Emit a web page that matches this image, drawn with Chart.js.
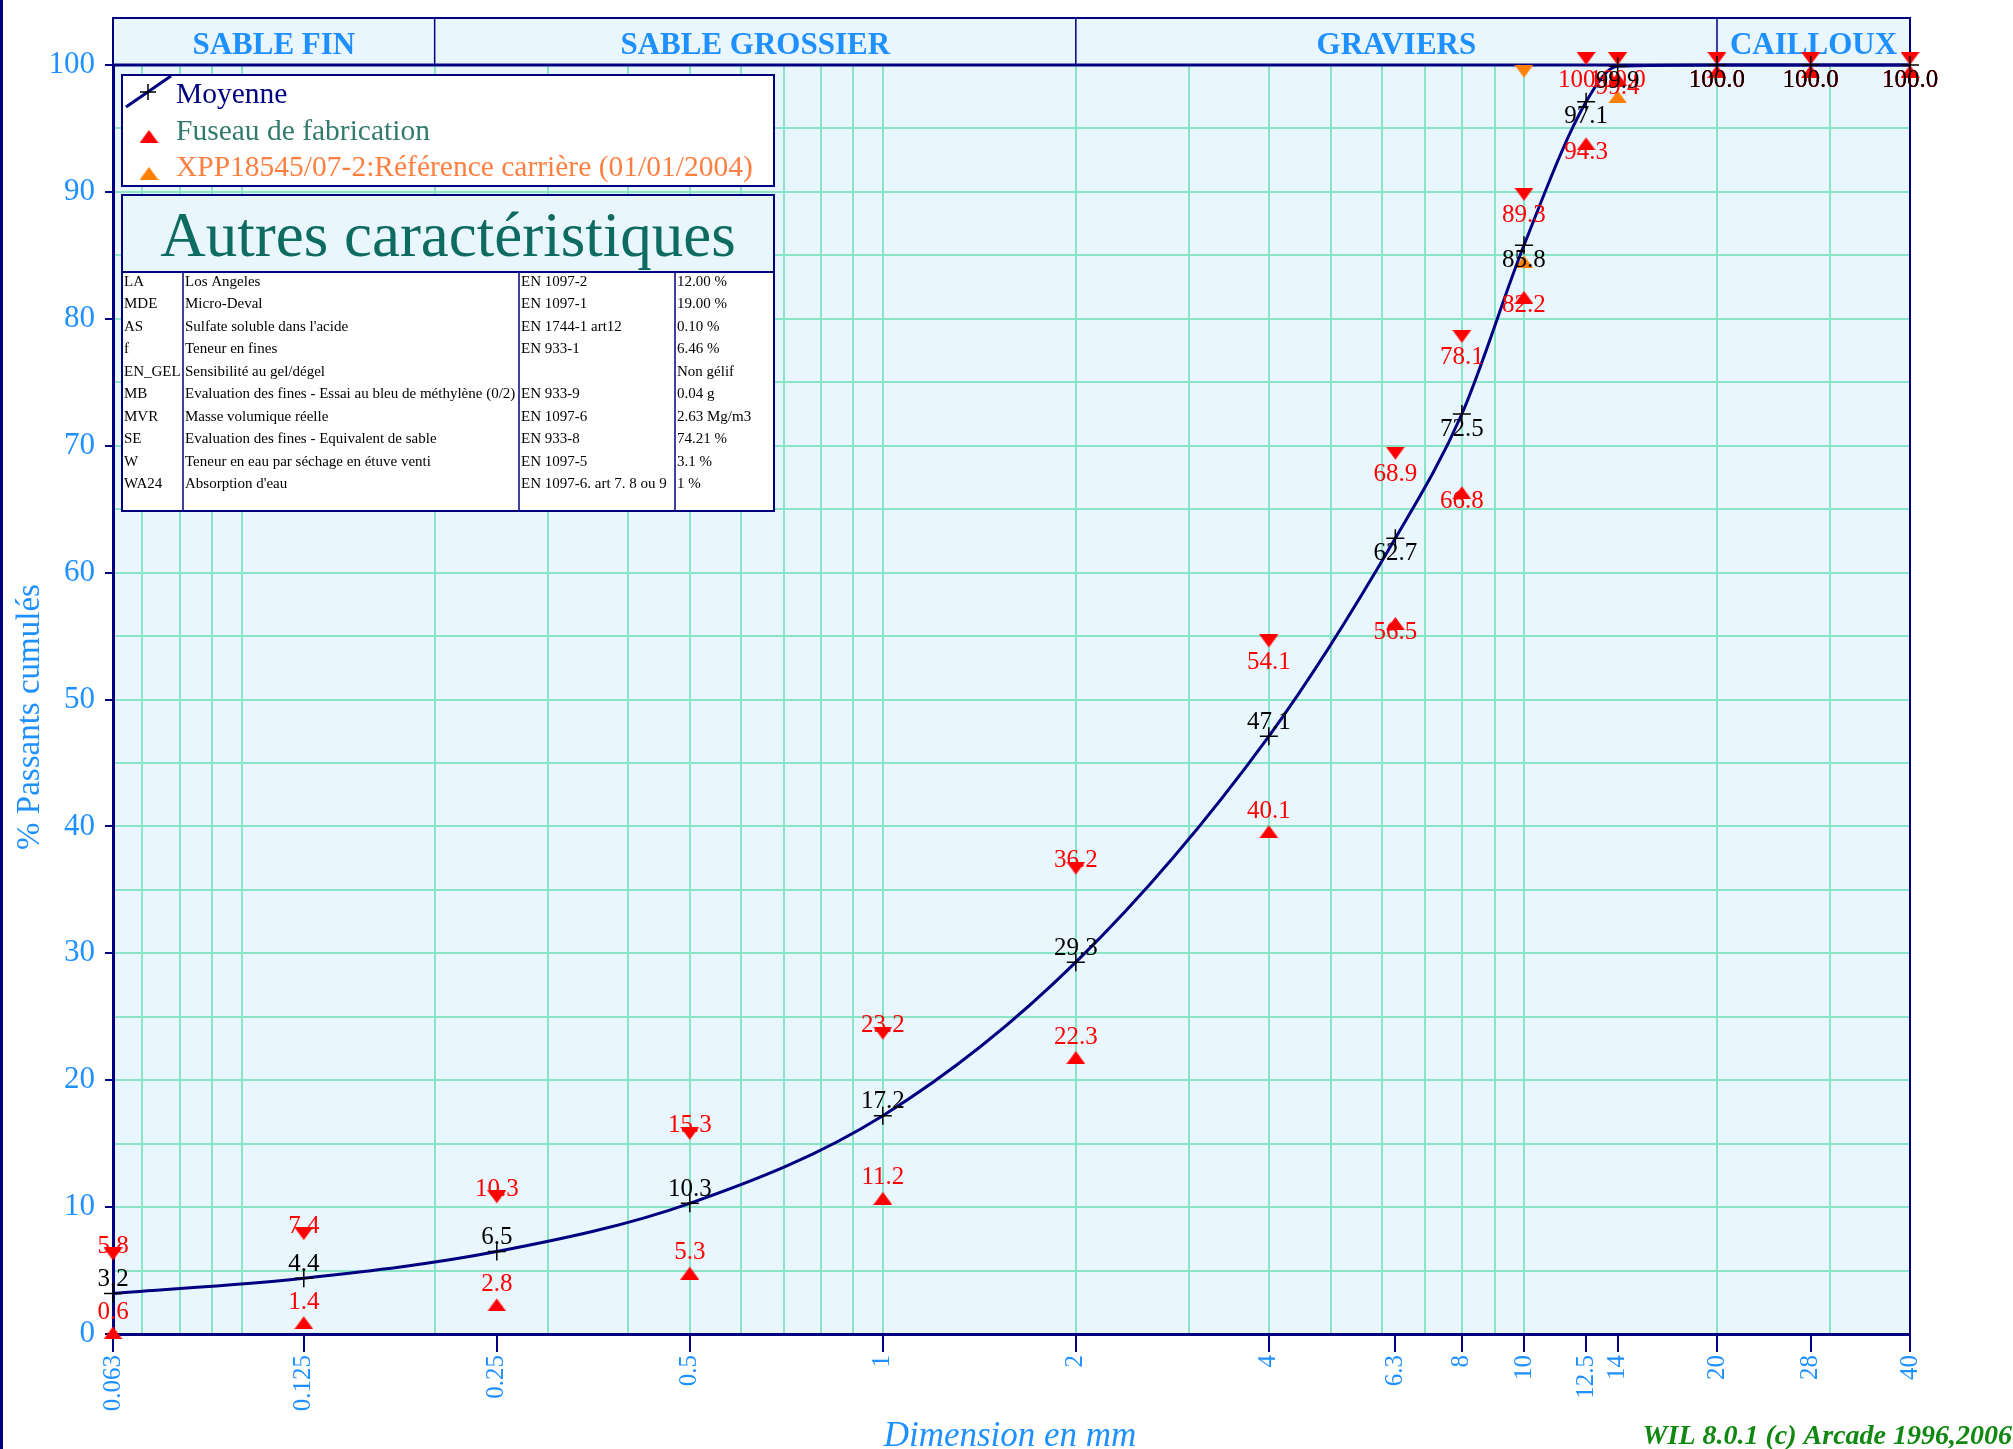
<!DOCTYPE html>
<html>
<head>
<meta charset="utf-8">
<title>Courbe granulométrique</title>
<script src="https://cdn.jsdelivr.net/npm/chart.js@4.4.1/dist/chart.umd.min.js"></script>
<style>
  html, body { margin: 0; padding: 0; background: #ffffff; }
  #wrap { width: 2013px; height: 1449px; position: relative; }
</style>
</head>
<body>
<div id="wrap"><canvas id="granulo" width="2013" height="1449"></canvas></div>
<script>
// sieve sizes (mm) and their printed labels
const sieves = [0.063, 0.125, 0.25, 0.5, 1, 2, 4, 6.3, 8, 10, 12.5, 14, 20, 28, 40];
const sieveLabels = ["0.063", "0.125", "0.25", "0.5", "1", "2", "4", "6.3", "8", "10", "12.5", "14", "20", "28", "40"];

// % passants cumulés
const moyenne = [3.2, 4.4, 6.5, 10.3, 17.2, 29.3, 47.1, 62.7, 72.5, 85.8, 97.1, 99.9, 100, 100, 100];
const fuseauMin = [0.6, 1.4, 2.8, 5.3, 11.2, 22.3, 40.1, 56.5, 66.8, 82.2, 94.3, 99.4, 100, 100, 100];
const fuseauMax = [5.8, 7.4, 10.3, 15.3, 23.2, 36.2, 54.1, 68.9, 78.1, 89.3, 100, 100, 100, 100, 100];

// XPP 18545 reference (carrière)
const refSieves = [10, 14];
const refMin = [85, 98];
const refMax = [99, 100];

// log grid lines
const gridSizes = [0.07, 0.08, 0.09, 0.1, 0.2, 0.3, 0.4, 0.5, 0.6, 0.7, 0.8, 0.9, 1, 2, 3, 4, 5, 6, 7, 8, 9, 10, 20, 30, 40];

// zones in the top band
const zoneNames = ["SABLE FIN", "SABLE GROSSIER", "GRAVIERS", "CAILLOUX"];
const zoneLimits = [0.063, 0.2, 2, 20, 40];

const legendNames = ["Moyenne", "Fuseau de fabrication", "XPP18545/07-2:Référence carrière (01/01/2004)"];

// "Autres caractéristiques" table
const caractCodes = ["LA", "MDE", "AS", "f", "EN_GEL", "MB", "MVR", "SE", "W", "WA24"];
const caractNames = ["Los Angeles", "Micro-Deval", "Sulfate soluble dans l'acide", "Teneur en fines",
  "Sensibilité au gel/dégel", "Evaluation des fines - Essai au bleu de méthylène (0/2)",
  "Masse volumique réelle", "Evaluation des fines - Equivalent de sable",
  "Teneur en eau par séchage en étuve venti", "Absorption d'eau"];
const caractNormes = ["EN 1097-2", "EN 1097-1", "EN 1744-1 art12", "EN 933-1", "", "EN 933-9",
  "EN 1097-6", "EN 933-8", "EN 1097-5", "EN 1097-6. art 7. 8 ou 9"];
const caractValeurs = ["12.00 %", "19.00 %", "0.10 %", "6.46 %", "Non gélif", "0.04 g",
  "2.63 Mg/m3", "74.21 %", "3.1 %", "1 %"];

const navy = "#000080";
const blue = "#1e90ff";
const gridColor = "#88e5c6";
const plotBg = "#eaf6fe";
const red = "#ff0000";
const orange = "#ff8000";
const serif = '"Liberation Serif", "DejaVu Serif", serif';

const allTicks = Array.from(new Set(sieves.concat(gridSizes))).sort((a, b) => a - b);

// triangle marker whose tip sits on the value
function triangle(color, up) {
  const w = 19, h = 13;
  const c = document.createElement("canvas");
  c.width = w; c.height = h * 2;
  const g = c.getContext("2d");
  g.fillStyle = color;
  g.beginPath();
  if (up) { g.moveTo(w / 2, h); g.lineTo(w, 2 * h); g.lineTo(0, 2 * h); }
  else { g.moveTo(w / 2, h); g.lineTo(w, 0); g.lineTo(0, 0); }
  g.closePath();
  g.fill();
  return c;
}

const pts = (xs, ys) => xs.map((x, i) => ({ x: x, y: ys[i] }));

// background of the plot + top band with zones
const decor = {
  id: "decor",
  beforeDraw(chart) {
    const { ctx, chartArea: a } = chart;
    ctx.save();
    ctx.fillStyle = plotBg;
    ctx.fillRect(a.left, a.top, a.right - a.left, a.bottom - a.top);
    ctx.restore();
  },
  beforeDatasetsDraw(chart) {
    const { ctx, chartArea: a } = chart;
    const xs = chart.scales.x;
    ctx.save();
    // zone band
    const top = 18;
    ctx.fillStyle = plotBg;
    ctx.fillRect(a.left, top, a.right - a.left, a.top - top);
    ctx.strokeStyle = navy;
    ctx.lineWidth = 2;
    ctx.strokeRect(a.left, top, a.right - a.left, a.top - top);
    ctx.lineWidth = 1.5;
    ctx.font = "bold 31px " + serif;
    ctx.fillStyle = blue;
    ctx.textAlign = "center";
    ctx.textBaseline = "middle";
    for (let i = 0; i < zoneNames.length; i++) {
      const x0 = xs.getPixelForValue(zoneLimits[i]);
      const x1 = xs.getPixelForValue(zoneLimits[i + 1]);
      if (i > 0) {
        ctx.beginPath(); ctx.moveTo(x0, top); ctx.lineTo(x0, a.top); ctx.stroke();
      }
      ctx.fillText(zoneNames[i], (x0 + x1) / 2, 46);
    }
    // plot frame (top + right)
    ctx.lineWidth = 3;
    ctx.beginPath(); ctx.moveTo(a.left, a.top); ctx.lineTo(a.right, a.top); ctx.stroke();
    ctx.lineWidth = 2;
    ctx.beginPath(); ctx.moveTo(a.right, a.top); ctx.lineTo(a.right, a.bottom); ctx.stroke();

    // legend box
    ctx.fillStyle = "#ffffff";
    ctx.fillRect(122, 75, 652, 111);
    ctx.strokeStyle = navy;
    ctx.lineWidth = 2;
    ctx.strokeRect(122, 75, 652, 111);
    ctx.lineWidth = 3;
    ctx.beginPath(); ctx.moveTo(126, 107); ctx.lineTo(171, 76); ctx.stroke();
    ctx.strokeStyle = "#000000";
    ctx.lineWidth = 1.5;
    ctx.beginPath();
    ctx.moveTo(140, 92); ctx.lineTo(156, 92);
    ctx.moveTo(148, 84); ctx.lineTo(148, 100);
    ctx.stroke();
    ctx.drawImage(triangle(red, true), 139.5, 117);
    ctx.drawImage(triangle(orange, true), 139.5, 154);
    ctx.font = "29.5px " + serif;
    ctx.textAlign = "left";
    const legendColors = [navy, "#337a6e", "#ff7f40"];
    const legendY = [95, 132, 168];
    legendNames.forEach((n, i) => {
      ctx.fillStyle = legendColors[i];
      ctx.fillText(n, 176, legendY[i]);
    });

    // "Autres caractéristiques" box
    const bx = 122, by = 195, bw = 652, bh = 316;
    ctx.fillStyle = "#ffffff";
    ctx.fillRect(bx, by, bw, bh);
    ctx.fillStyle = plotBg;
    ctx.fillRect(bx, by, bw, 77);
    ctx.strokeStyle = navy;
    ctx.lineWidth = 2;
    ctx.strokeRect(bx, by, bw, bh);
    ctx.beginPath(); ctx.moveTo(bx, 272); ctx.lineTo(bx + bw, 272); ctx.stroke();
    ctx.lineWidth = 1.5;
    [183, 519, 675].forEach(cx => {
      ctx.beginPath(); ctx.moveTo(cx, 272); ctx.lineTo(cx, by + bh); ctx.stroke();
    });
    ctx.fillStyle = "#0e6b62";
    ctx.font = "63px " + serif;
    ctx.textAlign = "center";
    ctx.textBaseline = "alphabetic";
    ctx.fillText("Autres caractéristiques", bx + bw / 2, 256);
    ctx.fillStyle = "#000000";
    ctx.font = "15px " + serif;
    ctx.textAlign = "left";
    ctx.textBaseline = "middle";
    caractCodes.forEach((c, i) => {
      const y = 282 + i * 22.45;
      ctx.fillText(c, 124, y);
      ctx.fillText(caractNames[i], 185, y);
      ctx.fillText(caractNormes[i], 521, y);
      ctx.fillText(caractValeurs[i], 677, y);
    });
    ctx.restore();
  },
  afterDraw(chart) {
    const { ctx } = chart;
    ctx.save();
    ctx.fillStyle = navy;
    ctx.fillRect(0, 0, 3, chart.height);
    // axis titles
    ctx.fillStyle = blue;
    ctx.font = "33px " + serif;
    ctx.textAlign = "center";
    ctx.textBaseline = "middle";
    ctx.translate(30, 717);
    ctx.rotate(-Math.PI / 2);
    ctx.fillText("% Passants cumulés", 0, 0);
    ctx.restore();
    ctx.save();
    ctx.fillStyle = blue;
    ctx.font = "italic 35px " + serif;
    ctx.textAlign = "center";
    ctx.textBaseline = "alphabetic";
    ctx.fillText("Dimension en mm", 1010, 1446);
    ctx.fillStyle = "#118811";
    ctx.font = "italic bold 28px " + serif;
    ctx.textAlign = "right";
    ctx.fillText("WIL 8.0.1 (c) Arcade 1996,2006", 2012, 1444);
    ctx.restore();
  }
};

// value labels next to each point
const valueLabels = {
  id: "valueLabels",
  afterDatasetsDraw(chart) {
    const ctx = chart.ctx;
    ctx.save();
    ctx.font = "25px " + serif;
    ctx.textAlign = "center";
    ctx.textBaseline = "middle";
    for (let i = chart.data.datasets.length - 1; i >= 0; i--) {
      const ds = chart.data.datasets[i];
      if (!ds.labelColor) continue;
      const meta = chart.getDatasetMeta(i);
      meta.data.forEach((pt, j) => {
        const v = ds.data[j].y;
        ctx.fillStyle = ds.labelColor;
        ctx.fillText(v.toFixed(1), pt.x, pt.y + (v < 50 ? -14 : 15));
      });
    }
    ctx.restore();
  }
};

new Chart(document.getElementById("granulo"), {
  type: "line",
  data: {
    datasets: [
      {
        label: legendNames[0],
        data: pts(sieves, moyenne),
        borderColor: navy,
        borderWidth: 3,
        cubicInterpolationMode: "monotone",
        pointStyle: "cross",
        pointRadius: 9,
        pointBorderColor: "#000000",
        pointBorderWidth: 1.5,
        labelColor: "#000000",
        clip: false,
        order: 0
      },
      {
        label: legendNames[1] + " max",
        data: pts(sieves, fuseauMax),
        showLine: false,
        pointStyle: triangle(red, false),
        pointRadius: 6,
        labelColor: red,
        clip: false,
        order: 1
      },
      {
        label: legendNames[1] + " min",
        data: pts(sieves, fuseauMin),
        showLine: false,
        pointStyle: triangle(red, true),
        pointRadius: 6,
        labelColor: red,
        clip: false,
        order: 2
      },
      {
        label: legendNames[2] + " max",
        data: pts(refSieves, refMax),
        showLine: false,
        pointStyle: triangle(orange, false),
        pointRadius: 6,
        clip: false,
        order: 3
      },
      {
        label: legendNames[2] + " min",
        data: pts(refSieves, refMin),
        showLine: false,
        pointStyle: triangle(orange, true),
        pointRadius: 6,
        clip: false,
        order: 4
      }
    ]
  },
  options: {
    responsive: false,
    animation: false,
    layout: { padding: { left: 0, top: 65, right: 103, bottom: 0 } },
    plugins: {
      legend: { display: false },
      tooltip: { enabled: false }
    },
    scales: {
      x: {
        type: "logarithmic",
        min: 0.063,
        max: 40,
        afterBuildTicks: scale => { scale.ticks = allTicks.map(v => ({ value: v })); },
        afterFit: scale => { scale.height = 115; scale.paddingLeft = 0; scale.paddingRight = 0; },
        ticks: {
          autoSkip: false,
          minRotation: 90,
          maxRotation: 90,
          padding: 3,
          color: blue,
          font: { family: serif, size: 25 },
          callback: value => {
            const k = sieves.indexOf(value);
            return k >= 0 ? sieveLabels[k] : "";
          }
        },
        grid: {
          color: ctx => gridSizes.includes(ctx.tick.value) ? gridColor : "transparent",
          lineWidth: 2,
          tickLength: 18,
          tickWidth: 2,
          tickColor: ctx => sieves.includes(ctx.tick.value) ? navy : "transparent"
        },
        border: { color: navy, width: 3 }
      },
      y: {
        type: "linear",
        min: 0,
        max: 100,
        afterFit: scale => { scale.width = 113; scale.paddingTop = 0; scale.paddingBottom = 0; },
        ticks: {
          stepSize: 5,
          padding: 10,
          color: blue,
          font: { family: serif, size: 31 },
          callback: v => (v % 10 === 0 ? String(v) : "")
        },
        grid: {
          color: gridColor,
          lineWidth: 2,
          tickLength: 8,
          tickWidth: 2,
          tickColor: ctx => (ctx.tick.value % 10 === 0 ? navy : "transparent")
        },
        border: { color: navy, width: 3 }
      }
    }
  },
  plugins: [decor, valueLabels]
});
</script>
</body>
</html>
